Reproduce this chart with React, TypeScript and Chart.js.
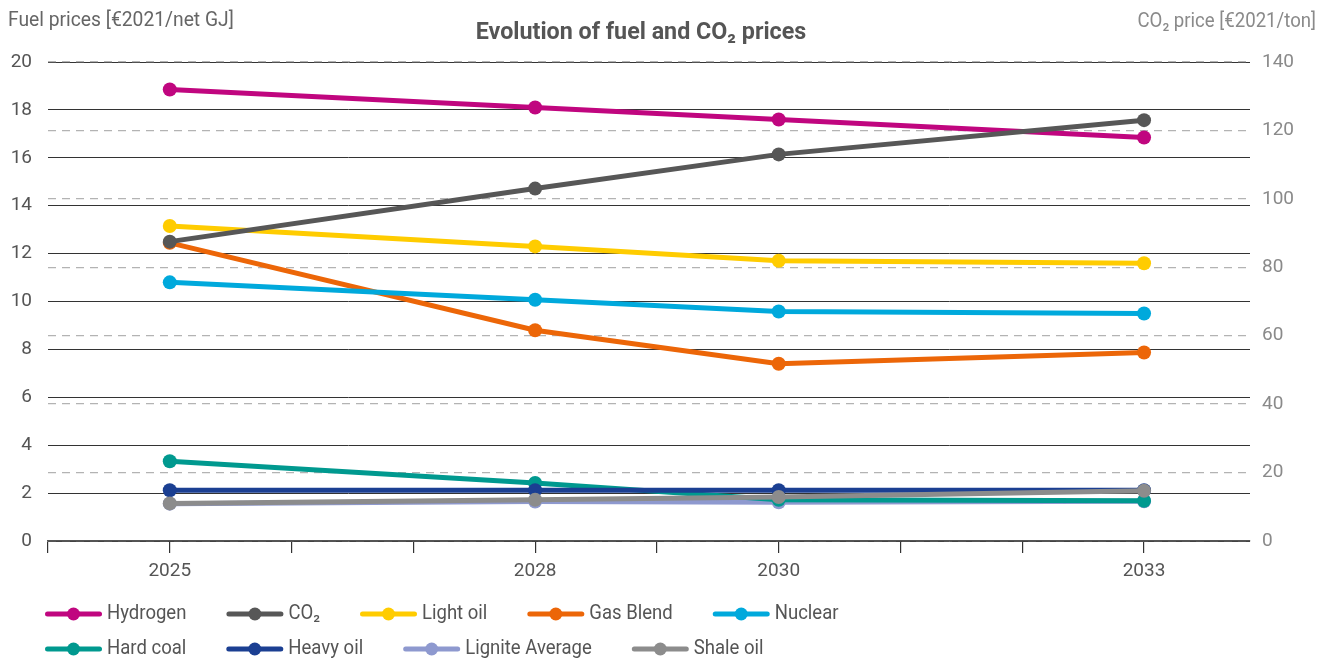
import React, { useEffect, useRef } from 'react';
import { Chart, registerables } from 'chart.js';

Chart.register(...registerables);

// ---- data ----
const years = [2025, 2028, 2030, 2033];
const labelledYears = [2025, 2028, 2030, 2033];
const seriesNames = ['Hydrogen', 'CO₂', 'Light oil', 'Gas Blend', 'Nuclear', 'Hard coal', 'Heavy oil', 'Lignite Average', 'Shale oil'];
const hydrogen = [18.85, 18.1, 17.6, 16.85];
const co2 = [87.5, 103, 113, 123];
const lightOil = [13.15, 12.3, 11.7, 11.6];
const gasBlend = [12.45, 8.8, 7.4, 7.87];
const nuclear = [10.8, 10.07, 9.58, 9.5];
const hardCoal = [3.33, 2.42, 1.72, 1.68];
const heavyOil = [2.12, 2.12, 2.12, 2.12];
const ligniteAverage = [1.56, 1.65, 1.62, 1.66];
const shaleOil = [1.57, 1.72, 1.84, 2.1];
const seriesColors = ['#C0067F', '#575757', '#FFCC00', '#EC6608', '#00A9DC', '#00998F', '#1B3F92', '#8E99CF', '#8C8C8C'];
const drawOrder = [-1, -100, -2, -3, -4, -6, -7, -5, -8];
const chartTitle = 'Evolution of fuel and CO₂ prices';
const leftAxisTitle = 'Fuel prices [€2021/net GJ]';
const rightAxisTitle = 'CO₂ price [€2021/ton]';

const FONT = 'Roboto, "Noto Sans", sans-serif';
const SX = 0.95;

function drawText(ctx: CanvasRenderingContext2D, text: string, x: number, y: number, align: string, font: string, color: string, sx = SX) {
  ctx.save();
  ctx.font = font;
  ctx.fillStyle = color;
  ctx.textBaseline = 'middle';
  ctx.textAlign = 'left';
  const w = ctx.measureText(text).width * sx;
  let x0 = x;
  if (align === 'center') x0 = x - w / 2;
  else if (align === 'right') x0 = x - w;
  ctx.translate(x0, y);
  ctx.scale(sx, 1);
  ctx.fillText(text, 0, 0);
  ctx.restore();
  return w;
}

const titlesPlugin = {
  id: 'customTitles',
  afterDraw(chart: any) {
    const ctx = chart.ctx as CanvasRenderingContext2D;
    drawText(ctx, chartTitle, 641, 33, 'center', `bold 24.5px ${FONT}`, '#555555');
    drawText(ctx, leftAxisTitle, 8, 21, 'left', `20.3px ${FONT}`, '#666666');
    drawText(ctx, rightAxisTitle, 1316, 22, 'right', `19.6px ${FONT}`, '#8a8a8a');
  },
};

const legendRows = [[0, 1, 2, 3, 4], [5, 6, 7, 8]];
const legendPlugin = {
  id: 'customLegend',
  afterDraw(chart: any) {
    const ctx = chart.ctx as CanvasRenderingContext2D;
    const rowY = [614, 649];
    legendRows.forEach((row, r) => {
      let x = 45;
      const y = rowY[r];
      row.forEach((i) => {
        const ds = chart.data.datasets[i];
        const c = ds.borderColor as string;
        ctx.save();
        ctx.strokeStyle = c;
        ctx.lineWidth = 5;
        ctx.lineCap = 'round';
        ctx.beginPath();
        ctx.moveTo(x + 2.5, y);
        ctx.lineTo(x + 54.5, y);
        ctx.stroke();
        ctx.fillStyle = c;
        ctx.beginPath();
        ctx.arc(x + 28.5, y, 6.5, 0, Math.PI * 2);
        ctx.fill();
        ctx.restore();
        const w = drawText(ctx, ds.label, x + 62, y, 'left', `19.5px ${FONT}`, '#555555');
        x += 62 + w + 40;
      });
    });
  },
};

export default function App() {
  const ref = useRef<HTMLCanvasElement | null>(null);
  useEffect(() => {
    if (!ref.current) return;
    const values = [hydrogen, co2, lightOil, gasBlend, nuclear, hardCoal, heavyOil, ligniteAverage, shaleOil];
    const datasets = values.map((vals, i) => ({
      label: seriesNames[i],
      data: years.map((x, k) => ({ x, y: vals[k] })),
      borderColor: seriesColors[i],
      backgroundColor: seriesColors[i],
      pointBackgroundColor: seriesColors[i],
      pointBorderColor: seriesColors[i],
      pointBorderWidth: 0,
      pointRadius: 7,
      borderWidth: 5,
      tension: 0,
      yAxisID: i === 1 ? 'y2' : 'y',
      order: drawOrder[i],
    }));
    const tickFont = { family: FONT, size: 19 };
    const chart = new Chart(ref.current, {
      type: 'line',
      data: { datasets },
      plugins: [titlesPlugin, legendPlugin],
      options: {
        animation: false,
        responsive: true,
        maintainAspectRatio: false,
        layout: { padding: { top: 62, bottom: 72, left: 0, right: 0 } },
        plugins: { legend: { display: false }, title: { display: false }, tooltip: { enabled: false } },
        scales: {
          x: {
            type: 'linear',
            min: 2024,
            max: 2033.87,
            ticks: {
              stepSize: 1,
              includeBounds: false,
              autoSkip: false,
              maxRotation: 0,
              font: tickFont,
              color: '#555555',
              padding: 7,
              callback: (v: any) => (labelledYears.includes(Number(v)) ? String(v) : ''),
            },
            grid: { drawOnChartArea: false, drawTicks: true, tickLength: 12, tickColor: '#333333', lineWidth: 1.2 },
            border: { display: true, color: '#555555', width: 1.5 },
            afterFit: (s: any) => { s.height = 50; },
          },
          y: {
            position: 'left',
            min: 0,
            max: 20,
            ticks: { stepSize: 2, font: tickFont, color: '#555555', padding: 16 },
            grid: { color: '#333333', lineWidth: 1, drawTicks: false },
            border: { display: false },
            afterFit: (s: any) => { s.width = 48; },
          },
          y2: {
            position: 'right',
            min: 0,
            max: 140,
            ticks: { stepSize: 20, font: tickFont, color: '#8a8a8a', padding: 12 },
            grid: { color: '#b3b3b3', lineWidth: 1.3, drawTicks: false },
            border: { display: false, dash: [8, 6] },
            afterFit: (s: any) => { s.width = 72; },
          },
        },
      } as any,
    });
    return () => chart.destroy();
  }, []);
  return (
    <div style={{ position: 'absolute', left: 0, top: 0, width: 1322, height: 663 }}>
      <canvas ref={ref} />
    </div>
  );
}
